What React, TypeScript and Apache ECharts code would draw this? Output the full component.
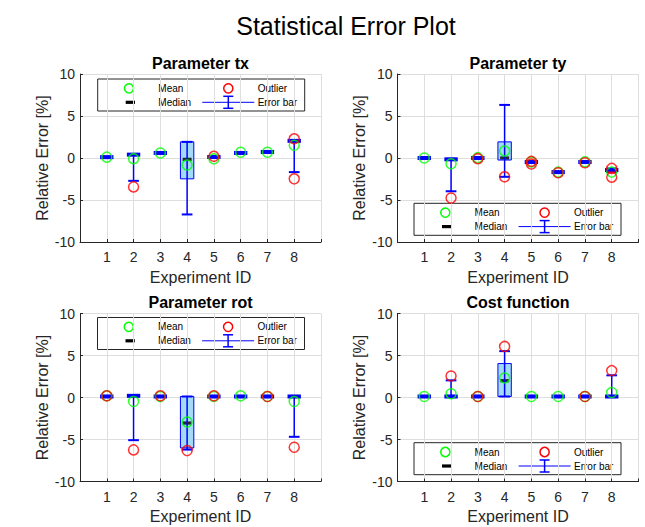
import React, { useEffect, useRef } from "react";
import * as echarts from "echarts";

const experiments = [1, 2, 3, 4, 5, 6, 7, 8];
const xTickLabels = ["1", "2", "3", "4", "5", "6", "7", "8"];
const panelTitles = ["Parameter tx", "Parameter ty", "Parameter rot", "Cost function"];

// Parameter tx
const txMean = [0.1, -0.08, 0.6, -0.84, -0.1, 0.68, 0.68, 1.52];
const txMedian = [0.1, 0.4, 0.6, -0.16, 0.12, 0.6, 0.72, 2.04];
const txQ1 = [0.1, 0.4, 0.6, -2.48, 0.12, 0.6, 0.72, 2.04];
const txQ3 = [0.1, 0.4, 0.6, 1.92, 0.12, 0.6, 0.72, 2.04];
const txLow = [0.1, -2.72, 0.6, -6.72, 0.12, 0.6, 0.72, -1.68];
const txHigh = [0.1, 0.4, 0.6, 1.92, 0.12, 0.6, 0.72, 2.04];
const txOutliers = [[2, -3.44], [5, 0.2], [8, 2.28], [8, -2.48]];

// Parameter ty
const tyMean = [0, -0.68, 0.04, 0.84, -0.48, -1.68, -0.44, -1.68];
const tyMedian = [0, -0.16, 0, 0, -0.48, -1.68, -0.48, -1.44];
const tyQ1 = [0, -0.16, 0, -0.24, -0.48, -1.68, -0.48, -1.44];
const tyQ3 = [0, -0.16, 0, 1.92, -0.48, -1.68, -0.48, -1.44];
const tyLow = [0, -3.96, 0, -2.24, -0.48, -1.68, -0.48, -1.68];
const tyHigh = [0, -0.16, 0, 6.32, -0.48, -1.68, -0.48, -1.24];
const tyOutliers = [[2, -4.76], [3, -0.08], [4, -2.24], [5, -0.4], [5, -0.72], [6, -1.76], [7, -0.56], [8, -1.24], [8, -2.28]];

// Parameter rot
const rotMean = [0.2, -0.48, 0.12, -2.92, 0.12, 0.2, 0.12, -0.48];
const rotMedian = [0.12, 0.2, 0.12, -3.04, 0.12, 0.12, 0.12, 0.12];
const rotQ1 = [0.12, 0.2, 0.12, -6.0, 0.12, 0.12, 0.12, 0.12];
const rotQ3 = [0.12, 0.2, 0.12, 0.12, 0.12, 0.12, 0.12, 0.12];
const rotLow = [0.12, -5.08, 0.12, -6.2, 0.12, 0.12, 0.12, -4.68];
const rotHigh = [0.12, 0.2, 0.12, 0.12, 0.12, 0.12, 0.12, 0.12];
const rotOutliers = [[1, 0.2], [2, -6.24], [3, 0.2], [4, -6.32], [5, 0.2], [7, 0.12], [8, -5.92]];

// Cost function
const costMean = [0.12, 0.44, 0.12, 2.32, 0.12, 0.12, 0.12, 0.6];
const costMedian = [0.12, 0.12, 0.12, 2.0, 0.12, 0.12, 0.12, 0.12];
const costQ1 = [0.12, 0.12, 0.12, 0.12, 0.12, 0.12, 0.12, 0.12];
const costQ3 = [0.12, 0.12, 0.12, 4.04, 0.12, 0.12, 0.12, 0.12];
const costLow = [0.12, 0.12, 0.12, 0.12, 0.12, 0.12, 0.12, 0.12];
const costHigh = [0.12, 2.04, 0.12, 5.52, 0.12, 0.12, 0.12, 2.64];
const costOutliers = [[2, 2.56], [3, 0.12], [4, 6.08], [7, 0.12], [8, 3.2]];

const panels = [
  { mean: txMean, median: txMedian, q1: txQ1, q3: txQ3, low: txLow, high: txHigh, outliers: txOutliers },
  { mean: tyMean, median: tyMedian, q1: tyQ1, q3: tyQ3, low: tyLow, high: tyHigh, outliers: tyOutliers },
  { mean: rotMean, median: rotMedian, q1: rotQ1, q3: rotQ3, low: rotLow, high: rotHigh, outliers: rotOutliers },
  { mean: costMean, median: costMedian, q1: costQ1, q3: costQ3, low: costLow, high: costHigh, outliers: costOutliers },
];

const FONT = "'Liberation Sans', Arial, Helvetica, sans-serif";
const AX = "#262626";
const GRID_C = "#dedede";
const BLUE = "#0000ff";

const grids = [
  { left: 80, top: 74, width: 241, height: 168 },
  { left: 397.5, top: 74, width: 241, height: 168 },
  { left: 80, top: 313.5, width: 241, height: 168 },
  { left: 397.5, top: 313.5, width: 241, height: 168 },
];
const legendPos = [
  [97.7, 79],
  [414, 203.3],
  [97.5, 317.5],
  [414, 442.7],
];

function legendGraphic(x: number, y: number) {
  const r1 = 9.3;
  const r2 = 23.3;
  const txt = (t: string, tx: number, ty: number) => ({
    type: "text",
    x: tx,
    y: ty,
    style: { text: t, fontSize: 10, fontFamily: FONT, fill: "#000", verticalAlign: "middle", align: "left" },
  });
  return {
    type: "group",
    x,
    y,
    z: 100,
    children: [
      { type: "rect", shape: { x: 0, y: 0, width: 207, height: 32 }, style: { fill: "#fff", stroke: AX, lineWidth: 1 } },
      { type: "circle", shape: { cx: 31.3, cy: r1, r: 4.6 }, style: { fill: "none", stroke: "#00ff00", lineWidth: 1.5 } },
      txt("Mean", 60.6, r1),
      { type: "circle", shape: { cx: 130.6, cy: r1, r: 4.6 }, style: { fill: "none", stroke: "#ff0000", lineWidth: 1.5 } },
      txt("Outlier", 160, r1),
      { type: "rect", shape: { x: 28, y: r2 - 1.6, width: 9.3, height: 3.2 }, style: { fill: "#000" } },
      txt("Median", 60.6, r2),
      { type: "line", shape: { x1: 104.6, y1: r2, x2: 156.6, y2: r2 }, style: { stroke: BLUE, lineWidth: 1 } },
      { type: "line", shape: { x1: 130.6, y1: r2 - 6, x2: 130.6, y2: r2 + 6 }, style: { stroke: BLUE, lineWidth: 1.5 } },
      { type: "line", shape: { x1: 125.6, y1: r2 - 6, x2: 135.6, y2: r2 - 6 }, style: { stroke: BLUE, lineWidth: 1.5 } },
      { type: "line", shape: { x1: 125.6, y1: r2 + 6, x2: 135.6, y2: r2 + 6 }, style: { stroke: BLUE, lineWidth: 1.5 } },
      txt("Error bar", 160, r2),
    ],
  };
}

export default function App() {
  const ref = useRef<HTMLDivElement>(null);
  useEffect(() => {
    if (!ref.current) return;
    const chart = echarts.init(ref.current, null, { renderer: "svg" });

    const xAxes = grids.map((_, i) => ({
      type: "value",
      gridIndex: i,
      min: 0,
      max: 9,
      interval: 1,
      name: "Experiment ID",
      nameLocation: "middle",
      nameGap: 27,
      nameTextStyle: { fontSize: 16, color: AX, fontFamily: FONT },
      axisLine: { show: true, onZero: false, lineStyle: { color: AX, width: 1 } },
      axisTick: { show: true, inside: true, length: 3, lineStyle: { color: AX } },
      axisLabel: {
        margin: 8,
        fontSize: 14,
        color: AX,
        fontFamily: FONT,
        formatter: (v: number) => {
          const idx = experiments.indexOf(v);
          return idx >= 0 ? xTickLabels[idx] : "";
        },
      },
      splitLine: { show: true, lineStyle: { color: GRID_C, width: 1 } },
    }));

    const yAxes = grids.map((_, i) => ({
      type: "value",
      gridIndex: i,
      min: -10,
      max: 10,
      interval: 5,
      name: "Relative Error [%]",
      nameLocation: "middle",
      nameGap: 30,
      nameTextStyle: { fontSize: 16, color: AX, fontFamily: FONT },
      axisLine: { show: true, onZero: false, lineStyle: { color: AX, width: 1 } },
      axisTick: { show: true, inside: true, length: 3, lineStyle: { color: AX } },
      axisLabel: { margin: 5, fontSize: 14, color: AX, fontFamily: FONT },
      splitLine: { show: true, lineStyle: { color: GRID_C, width: 1 } },
    }));

    const series: any[] = [];
    panels.forEach((p, i) => {
      const boxData = experiments.map((x, k) => [x, p.q1[k], p.q3[k]]);
      const errData = experiments.map((x, k) => [x, p.low[k], p.high[k]]);
      series.push({
        type: "custom",
        xAxisIndex: i,
        yAxisIndex: i,
        z: 1,
        encode: { x: 0, y: [1, 2] },
        data: boxData,
        renderItem: (params: any, api: any) => {
          const x = api.value(0);
          const a = api.coord([x - 0.25, api.value(2)]);
          const b = api.coord([x + 0.25, api.value(1)]);
          return {
            type: "rect",
            shape: { x: a[0], y: a[1], width: b[0] - a[0], height: b[1] - a[1] },
            style: { fill: "#a3dbf6", stroke: "none" },
          };
        },
      });
      series.push({
        type: "scatter",
        xAxisIndex: i,
        yAxisIndex: i,
        z: 2,
        symbol: "rect",
        symbolSize: [9, 3.2],
        itemStyle: { color: "#000" },
        data: experiments.map((x, k) => [x, p.median[k]]),
      });
      series.push({
        type: "custom",
        xAxisIndex: i,
        yAxisIndex: i,
        z: 3,
        encode: { x: 0, y: [1, 2] },
        data: boxData,
        renderItem: (params: any, api: any) => {
          const x = api.value(0);
          const a = api.coord([x - 0.25, api.value(2)]);
          const b = api.coord([x + 0.25, api.value(1)]);
          const h = b[1] - a[1];
          if (h < 1.5) {
            return {
              type: "rect",
              shape: { x: a[0], y: (a[1] + b[1]) / 2 - 2, width: b[0] - a[0], height: 4 },
              style: { fill: BLUE, stroke: "none" },
            };
          }
          return {
            type: "rect",
            shape: { x: a[0], y: a[1], width: b[0] - a[0], height: h },
            style: { fill: "none", stroke: BLUE, lineWidth: 1 },
          };
        },
      });
      series.push({
        type: "custom",
        xAxisIndex: i,
        yAxisIndex: i,
        z: 4,
        encode: { x: 0, y: [1, 2] },
        data: errData,
        renderItem: (params: any, api: any) => {
          const x = api.value(0);
          const lo = api.coord([x, api.value(1)]);
          const hi = api.coord([x, api.value(2)]);
          const cl = api.coord([x - 0.2, api.value(1)]);
          const cr = api.coord([x + 0.2, api.value(1)]);
          const half = (cr[0] - cl[0]) / 2;
          return {
            type: "group",
            children: [
              { type: "line", shape: { x1: lo[0], y1: lo[1], x2: hi[0], y2: hi[1] }, style: { stroke: BLUE, lineWidth: 1.5 } },
              { type: "line", shape: { x1: lo[0] - half, y1: lo[1], x2: lo[0] + half, y2: lo[1] }, style: { stroke: BLUE, lineWidth: 2 } },
              { type: "line", shape: { x1: hi[0] - half, y1: hi[1], x2: hi[0] + half, y2: hi[1] }, style: { stroke: BLUE, lineWidth: 2 } },
            ],
          };
        },
      });
      series.push({
        type: "scatter",
        xAxisIndex: i,
        yAxisIndex: i,
        z: 5,
        symbol: "circle",
        symbolSize: 10,
        itemStyle: { color: "rgba(0,0,0,0)", borderColor: "#00ff00", borderWidth: 1.5 },
        data: experiments.map((x, k) => [x, p.mean[k]]),
      });
      series.push({
        type: "scatter",
        xAxisIndex: i,
        yAxisIndex: i,
        z: 6,
        symbol: "circle",
        symbolSize: 10,
        itemStyle: { color: "rgba(0,0,0,0)", borderColor: "#ff0000", borderWidth: 1.5 },
        data: p.outliers,
      });
    });

    const titles = [
      { text: "Statistical Error Plot", left: 346, top: 13, textAlign: "center", padding: 0, textStyle: { fontSize: 25, fontWeight: "normal", color: "#000", fontFamily: FONT } },
      ...panelTitles.map((t, i) => ({
        text: t,
        left: grids[i].left + grids[i].width / 2,
        top: grids[i].top - 19,
        textAlign: "center",
        padding: 0,
        textStyle: { fontSize: 16, fontWeight: "bold", color: "#000", fontFamily: FONT },
      })),
    ];

    chart.setOption({
      animation: false,
      backgroundColor: "#fff",
      textStyle: { fontFamily: FONT },
      title: titles,
      grid: grids.map((g) => ({ ...g, containLabel: false })),
      xAxis: xAxes,
      yAxis: yAxes,
      series,
      graphic: legendPos.map(([x, y]) => legendGraphic(x, y)),
    });
    return () => chart.dispose();
  }, []);
  return <div ref={ref} style={{ position: "absolute", left: 0, top: 0, width: 645, height: 527 }} />;
}
